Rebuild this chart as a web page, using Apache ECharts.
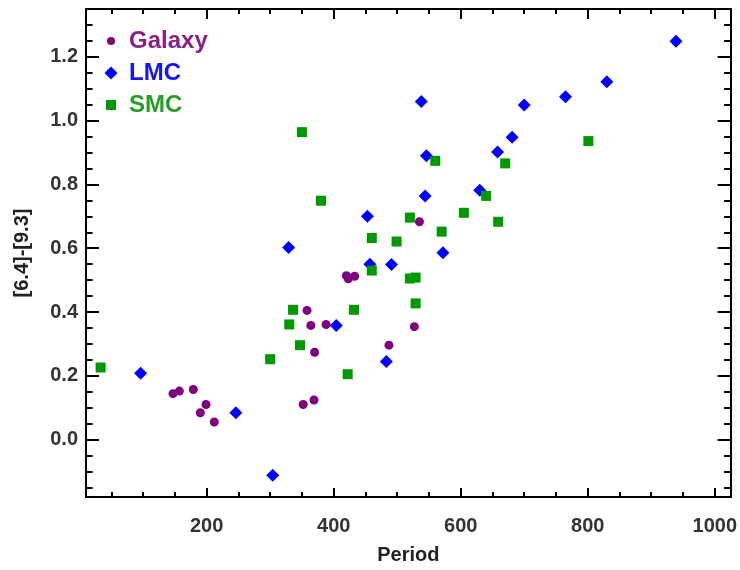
<!DOCTYPE html>
<html>
<head>
<meta charset="utf-8">
<script src="https://cdn.jsdelivr.net/npm/echarts@6/dist/echarts.min.js"></script>
<style>
html,body{margin:0;padding:0;background:#fff;}
#c{width:740px;height:570px;}
</style>
</head>
<body>
<div id="c"></div>
<script>
// ---- data (Period, [6.4]-[9.3]) ----
var galaxy = [
  [147,0.144],[157,0.152],[179,0.157],[199,0.110],[190,0.084],[212,0.055],
  [352,0.110],[369,0.124],[358,0.405],[364,0.358],[370,0.274],[388,0.361],
  [420,0.514],[423,0.504],[433,0.512],[487,0.296],[527,0.354],[535,0.683]
];
var lmc = [
  [96,0.208],[246,0.084],[304,-0.112],[329,0.602],[404,0.358],[453,0.700],
  [457,0.550],[483,0.245],[491,0.549],[538,1.060],[544,0.764],[546,0.890],
  [572,0.586],[630,0.782],[658,0.902],[681,0.948],[700,1.049],[765,1.075],
  [830,1.122],[939,1.249]
];
var smc = [
  [33,0.226],[300,0.252],[330,0.361],[336,0.407],[347,0.296],[350,0.964],
  [380,0.749],[422,0.205],[432,0.407],[460,0.632],[460,0.530],[499,0.621],
  [520,0.696],[520,0.505],[529,0.508],[529,0.427],[560,0.874],[570,0.652],
  [605,0.711],[640,0.764],[659,0.683],[670,0.866],[801,0.936]
];
var seriesNames = ['Galaxy','LMC','SMC'];
var xTicks = [200,400,600,800,1000];
var yTicks = [0.0,0.2,0.4,0.6,0.8,1.0,1.2];
var xMinorTicks = [50,100,150,250,300,350,450,500,550,650,700,750,850,900,950];
var yMinorTicks = [-0.15,-0.1,-0.05,0.05,0.1,0.15,0.25,0.3,0.35,0.45,0.5,0.55,0.65,0.7,0.75,0.85,0.9,0.95,1.05,1.1,1.15,1.25,1.3];

var X_MIN = 10, X_MAX = 1025, Y_MIN = -0.18, Y_MAX = 1.35;
var FONT = "'Liberation Sans', Arial, Helvetica, sans-serif";
var colors = {Galaxy:'#800080', LMC:'#0000ff', SMC:'#009900'};
var textColors = {Galaxy:'#8a1f8a', LMC:'#1414ff', SMC:'#25a025'};

function xAx(pos, ticks, len, showLine, showLabel, name) {
  return {
    type:'value', position:pos, min:X_MIN, max:X_MAX,
    splitLine:{show:false},
    axisLine:{show:showLine, onZero:false, lineStyle:{color:'#000', width:2}},
    axisTick:{show:true, inside:true, length:len, customValues:ticks, lineStyle:{color:'#000', width:2}},
    axisLabel:{show:showLabel, customValues:ticks, margin:19, color:'#333',
      fontFamily:FONT, fontWeight:'bold', fontSize:20,
      formatter:function(v){return String(Math.round(v));}},
    name:name || '', nameLocation:'middle', nameGap:48,
    nameTextStyle:{fontFamily:FONT, fontWeight:'bold', fontSize:20, color:'#222'}
  };
}
function yAx(pos, ticks, len, showLine, showLabel, name) {
  return {
    type:'value', position:pos, min:Y_MIN, max:Y_MAX,
    splitLine:{show:false},
    axisLine:{show:showLine, onZero:false, lineStyle:{color:'#000', width:2}},
    axisTick:{show:true, inside:true, length:len, customValues:ticks, lineStyle:{color:'#000', width:2}},
    axisLabel:{show:showLabel, customValues:ticks, margin:8, color:'#333',
      fontFamily:FONT, fontWeight:'bold', fontSize:20,
      formatter:function(v){return Number(v).toFixed(1);}},
    name:name || '', nameLocation:'middle', nameGap:54, nameRotate:90,
    nameTextStyle:{fontFamily:FONT, fontWeight:'bold', fontSize:20, color:'#222'}
  };
}

var legendIcons = {
  Galaxy:'path://M0 0 M26 14 M9 7 A4 4 0 1 1 17 7 A4 4 0 1 1 9 7 Z',
  LMC:'path://M0 0 M26 14 M13 0.5 L19.5 7 L13 13.5 L6.5 7 Z',
  SMC:'path://M0 0 M26 14 M8 2 L18 2 L18 12 L8 12 Z'
};

var chart = echarts.init(document.getElementById('c'), null, {renderer:'canvas'});
chart.setOption({
  animation:false,
  backgroundColor:'#fff',
  grid:{left:86, right:7, top:9, bottom:72, containLabel:false},
  xAxis:[
    xAx('bottom', xTicks, 9, true, true, 'Period'),
    xAx('top', xTicks, 10, true, false),
    xAx('bottom', xMinorTicks, 5, false, false),
    xAx('top', xMinorTicks, 5, false, false)
  ],
  yAxis:[
    yAx('left', yTicks, 13, true, true, '[6.4]-[9.3]'),
    yAx('right', yTicks, 13, true, false),
    yAx('left', yMinorTicks, 6.5, false, false),
    yAx('right', yMinorTicks, 6.5, false, false)
  ],
  legend:{
    orient:'vertical', left:98, top:29, padding:0, itemGap:8,
    itemWidth:26, itemHeight:14, selectedMode:false,
    textStyle:{fontFamily:FONT, fontWeight:'bold', fontSize:24},
    data:seriesNames.map(function(n){
      return {name:n, icon:legendIcons[n], textStyle:{color:textColors[n]}};
    })
  },
  series:[
    {name:'Galaxy', type:'scatter', data:galaxy, symbol:'circle', symbolSize:9,
      itemStyle:{color:colors.Galaxy, opacity:1}},
    {name:'LMC', type:'scatter', data:lmc, symbol:'diamond', symbolSize:13,
      itemStyle:{color:colors.LMC, opacity:1}},
    {name:'SMC', type:'scatter', data:smc, symbol:'rect', symbolSize:10,
      itemStyle:{color:colors.SMC, opacity:1}}
  ]
});
</script>
</body>
</html>
